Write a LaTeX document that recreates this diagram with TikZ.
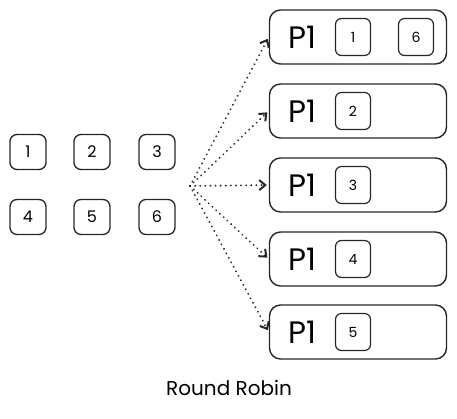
\documentclass[tikz,border=0pt]{standalone}
\usepackage{fontspec}
\setmainfont{Poppins}
\usetikzlibrary{
    arrows.meta,
    positioning
}

\begin{document}
\begin{tikzpicture}[
    x=1pt, y=-1pt,
    taskbox/.style={
        rectangle,
        rounded corners=7pt,
        draw=black!85,
        line width=1.3pt,
        minimum width=36pt,
        minimum height=35pt,
        font=\fontsize{16}{16}\selectfont
    },
    procbox/.style={
        rectangle,
        rounded corners=11pt,
        draw=black!85,
        line width=1.4pt,
        minimum width=177pt,
        minimum height=54pt
    },
    slotbox/.style={
        rectangle,
        rounded corners=6pt,
        draw=black!85,
        line width=1.2pt,
        minimum width=35pt,
        minimum height=37pt,
        font=\fontsize{14}{14}\selectfont
    },
    proclabel/.style={
        font=\fontsize{31}{31}\selectfont
    },
    arrow/.style={
        -{Straight Barb[length=6pt,width=10pt]},
        line width=2pt,
        line cap=round,
        dash pattern=on 0.1pt off 5pt,
        draw=black!85,
        shorten >=2pt
    }
]
\useasboundingbox (0,0) rectangle (457,418);

% =========================================================
% Tasks waiting
% =========================================================
\node[taskbox] (task1) at (28,152) {1};
\node[taskbox] (task2) at (92,152) {2};
\node[taskbox] (task3) at (157,152) {3};
\node[taskbox] (task4) at (28,217) {4};
\node[taskbox] (task5) at (92,217) {5};
\node[taskbox] (task6) at (157,217) {6};

\coordinate (src) at (190,186);

% =========================================================
% Processors
% =========================================================
\foreach \i/\y in {1/37, 2/111, 3/185, 4/259, 5/332} {
    \node[procbox] (proc\i) at (358,\y) {};
    \node[proclabel] (label\i) at (302,\y) {P1};
}

\node[slotbox] (slot1) at (353,37) {1};
\node[slotbox] (slot6) at (416,37) {6};
\node[slotbox] (slot2) at (353,111) {2};
\node[slotbox] (slot3) at (353,185) {3};
\node[slotbox] (slot4) at (353,259) {4};
\node[slotbox] (slot5) at (353,332) {5};

% =========================================================
% Dispatch arrows
% =========================================================
\foreach \i in {1,...,5} {
    \draw[arrow] (src) -- (proc\i.west);
}

\node[font=\fontsize{20}{20}\selectfont] (title) at (229,388) {Round Robin};

\end{tikzpicture}
\end{document}
